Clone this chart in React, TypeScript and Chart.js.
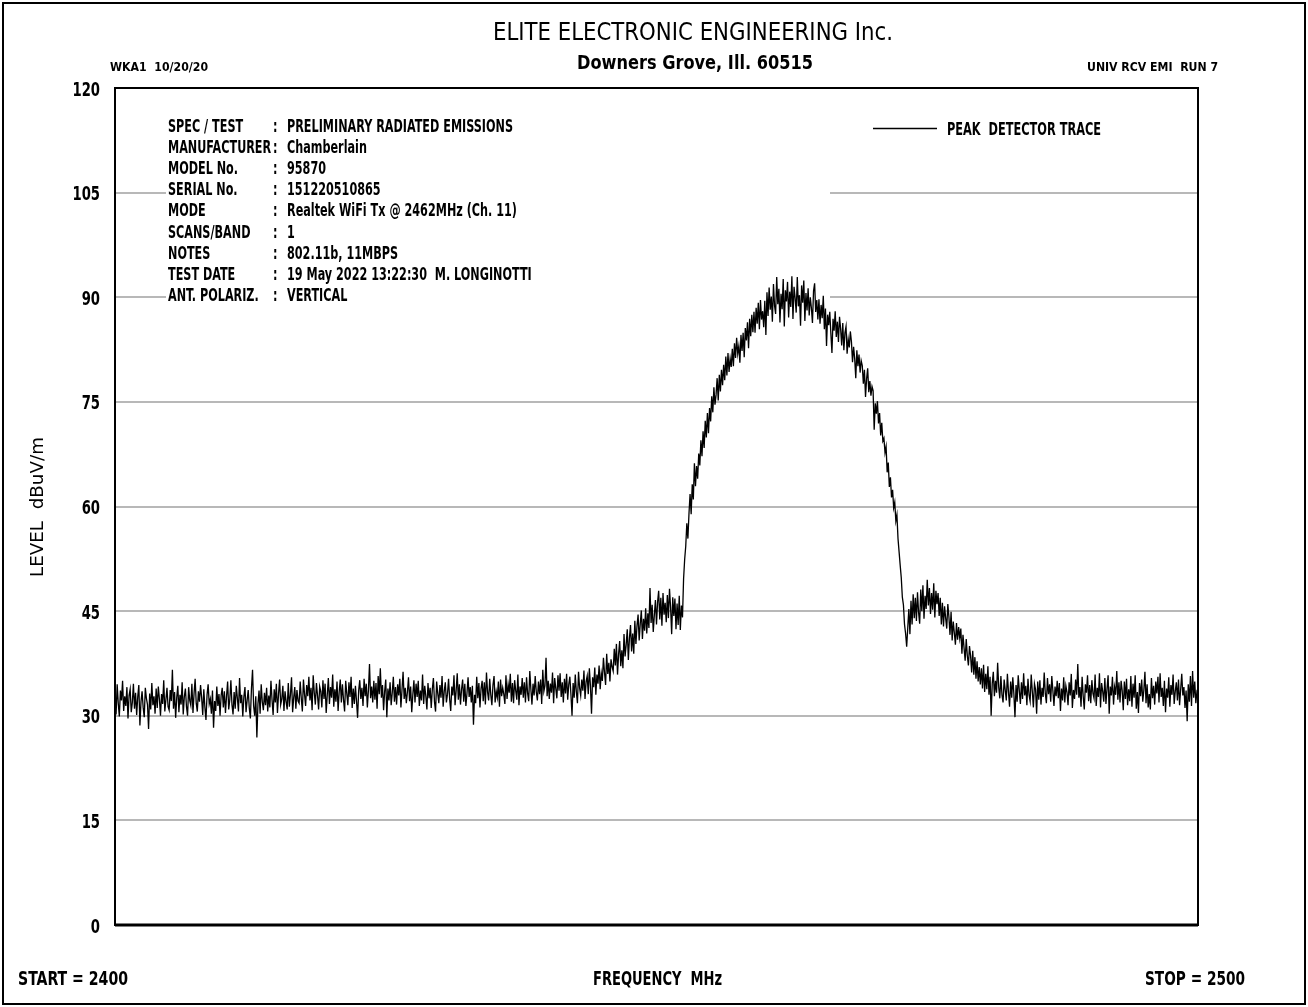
import React, { useEffect, useRef } from 'react';
import { Chart, registerables } from 'chart.js';

Chart.register(...registerables);

// ---- Data ----
const START_MHZ = 2400;
const STOP_MHZ = 2500;
const STEP_MHZ = 0.1;
const Y_MIN = 0;
const Y_MAX = 120;
const Y_STEP = 15;

const TITLE = 'ELITE ELECTRONIC ENGINEERING Inc.';
const SUBTITLE = 'Downers Grove, Ill. 60515';
const HEADER_LEFT = 'WKA1  10/20/20';
const HEADER_RIGHT = 'UNIV RCV EMI  RUN 7';
const Y_TITLE = 'LEVEL  dBuV/m';
const X_TITLE = 'FREQUENCY  MHz';
const START_LABEL = 'START = 2400';
const STOP_LABEL = 'STOP = 2500';
const LEGEND_LABEL = 'PEAK  DETECTOR TRACE';

const INFO_LABELS = [
  'SPEC / TEST',
  'MANUFACTURER',
  'MODEL No.',
  'SERIAL No.',
  'MODE',
  'SCANS/BAND',
  'NOTES',
  'TEST DATE',
  'ANT. POLARIZ.',
];
const INFO_VALUES = [
  'PRELIMINARY RADIATED EMISSIONS',
  'Chamberlain',
  '95870',
  '151220510865',
  'Realtek WiFi Tx @ 2462MHz (Ch. 11)',
  '1',
  '802.11b, 11MBPS',
  '19 May 2022 13:22:30  M. LONGINOTTI',
  'VERTICAL',
];

// Peak detector trace, dBuV/m, one reading every 0.1 MHz from 2400.0 to 2500.0 MHz
const PEAK_TRACE = [
  33.1, 30.2, 34.5, 31.8, 29.9, 33.6, 32.2, 35.0, 30.7, 32.8, // 2400
  31.4, 34.1, 29.6, 32.9, 33.8, 30.5, 31.9, 34.6, 31.0, 33.3,
  30.1, 32.7, 34.4, 28.6, 32.0, 33.5, 31.2, 29.8, 34.0, 32.5,
  31.6, 28.1, 33.2, 30.9, 34.7, 31.5, 32.8, 30.3, 33.9, 31.1,
  34.2, 32.4, 30.0, 33.1, 31.7, 35.1, 30.6, 32.3, 34.0, 31.3,
  30.8, 33.7, 32.1, 36.6, 31.0, 33.4, 29.7, 32.6, 34.3, 30.5, // 2405
  33.0, 31.6, 34.8, 30.2, 32.7, 33.9, 31.3, 30.0, 34.1, 32.2,
  31.5, 34.6, 30.4, 33.2, 35.3, 31.8, 30.6, 33.5, 32.0, 34.4,
  32.6, 30.1, 33.8, 31.2, 29.4, 33.0, 34.5, 31.7, 32.4, 30.3,
  33.6, 28.3, 32.1, 30.7, 34.2, 31.4, 33.1, 30.0, 32.9, 34.0,
  31.2, 33.5, 30.4, 32.8, 34.9, 30.9, 32.3, 35.1, 31.6, 30.2, // 2410
  33.4, 31.0, 34.3, 32.5, 30.6, 35.4, 31.8, 33.0, 29.9, 32.7,
  34.1, 30.5, 32.2, 33.7, 31.1, 29.6, 33.9, 36.6, 31.4, 30.0,
  32.8, 26.9, 31.7, 33.6, 30.3, 34.5, 32.0, 30.8, 33.3, 31.5,
  34.0, 30.6, 32.9, 31.2, 35.0, 32.3, 30.1, 33.8, 31.9, 34.6,
  30.4, 33.1, 35.2, 31.6, 32.4, 34.3, 30.7, 33.5, 32.0, 30.9, // 2415
  34.7, 31.3, 33.0, 35.5, 30.5, 32.6, 34.1, 31.0, 33.7, 32.1,
  31.8, 34.9, 32.5, 30.6, 35.2, 33.1, 31.4, 34.4, 32.8, 35.6,
  32.2, 34.0, 30.8, 35.8, 33.3, 31.6, 34.7, 32.9, 30.9, 34.2,
  33.5, 31.2, 35.1, 32.4, 34.6, 30.4, 33.0, 35.4, 31.7, 34.1,
  32.6, 35.9, 31.3, 33.8, 32.0, 34.9, 30.7, 33.4, 35.2, 31.9, // 2420
  34.5, 32.3, 30.6, 35.0, 33.2, 31.5, 34.8, 32.7, 35.6, 31.1,
  33.9, 31.7, 34.3, 32.1, 29.7, 33.6, 35.1, 32.4, 34.0, 31.4,
  35.3, 32.8, 34.6, 31.2, 33.7, 37.4, 32.5, 34.2, 31.9, 35.0,
  32.3, 34.7, 31.0, 35.7, 33.1, 36.8, 32.6, 34.4, 30.8, 33.5,
  35.2, 29.8, 33.9, 32.2, 34.8, 31.5, 33.3, 35.6, 32.0, 34.1, // 2425
  31.6, 34.5, 32.9, 35.3, 31.2, 33.7, 36.3, 32.4, 34.0, 31.8,
  33.4, 35.5, 32.1, 34.2, 30.5, 33.0, 35.1, 31.9, 34.6, 32.7,
  35.0, 31.4, 33.6, 32.2, 35.9, 31.7, 34.3, 32.8, 30.9, 34.7,
  32.5, 34.0, 31.1, 33.8, 35.4, 32.0, 30.6, 34.9, 33.2, 31.8,
  34.4, 32.6, 35.7, 31.3, 33.5, 34.8, 31.9, 33.1, 35.3, 32.4, // 2430
  30.7, 34.2, 32.9, 35.8, 31.5, 33.6, 36.1, 32.3, 34.5, 31.6,
  33.8, 35.2, 32.0, 34.6, 31.4, 33.2, 35.5, 32.7, 34.1, 31.9,
  34.3, 28.7, 33.0, 31.8, 35.6, 32.5, 34.7, 31.2, 33.9, 35.0,
  32.1, 34.8, 31.6, 36.2, 33.4, 32.2, 35.3, 33.0, 31.5, 34.4,
  35.7, 31.9, 33.5, 32.6, 34.9, 31.3, 35.2, 32.8, 34.0, 33.1, // 2435
  31.7, 35.8, 32.4, 34.5, 33.3, 36.0, 32.0, 34.7, 31.8, 35.1,
  33.6, 32.3, 35.9, 31.5, 34.2, 33.0, 35.4, 32.6, 34.8, 31.9,
  35.5, 33.2, 32.1, 36.4, 33.8, 31.6, 34.6, 32.9, 35.7, 33.4,
  32.2, 34.9, 33.1, 35.2, 31.7, 36.6, 33.5, 34.3, 38.3, 32.8,
  35.0, 32.4, 34.6, 33.3, 36.2, 31.8, 35.4, 33.9, 32.5, 35.8, // 2440
  33.6, 36.1, 32.7, 34.8, 31.9, 35.3, 33.2, 36.0, 32.3, 34.5,
  35.6, 33.0, 30.0, 34.7, 32.6, 35.9, 33.4, 31.8, 36.3, 34.0,
  32.9, 35.2, 33.6, 36.5, 32.4, 34.9, 35.7, 33.1, 36.8, 34.3,
  30.3, 35.5, 34.1, 36.9, 33.0, 35.9, 34.6, 37.2, 33.8, 36.1,
  35.0, 38.3, 36.2, 34.4, 38.9, 36.0, 37.6, 34.9, 38.1, 37.0, // 2445
  36.4, 39.6, 37.2, 40.3, 35.9, 38.8, 40.7, 37.1, 39.4, 36.8,
  41.7, 38.5, 40.2, 42.4, 38.0, 41.1, 43.0, 39.2, 41.8, 38.9,
  43.6, 40.3, 42.9, 44.5, 40.8, 43.2, 45.1, 41.0, 43.9, 42.2,
  45.4, 41.8, 44.7, 42.6, 48.3, 43.3, 45.9, 42.0, 44.4, 46.6,
  43.1, 46.3, 47.9, 43.8, 46.9, 42.9, 47.6, 44.5, 46.2, 43.4, // 2450
  47.3, 44.0, 48.2, 45.6, 41.7, 47.0, 44.3, 46.8, 42.4, 46.1,
  43.0, 47.2, 42.3, 45.8, 44.1, 49.6, 52.4, 54.3, 57.6, 55.4,
  59.0, 61.8, 58.9, 63.2, 61.0, 66.2, 62.9, 65.8, 64.0, 67.6,
  65.9, 69.5, 67.2, 70.8, 68.4, 72.3, 69.9, 73.4, 70.5, 74.1,
  72.2, 75.8, 73.5, 77.1, 74.6, 76.0, 78.4, 75.2, 78.9, 76.5, // 2455
  79.6, 77.4, 80.3, 78.1, 81.5, 78.8, 82.0, 79.3, 81.2, 80.0,
  82.6, 80.1, 83.4, 81.3, 84.2, 81.9, 83.0, 80.6, 84.6, 82.3,
  84.9, 81.4, 85.6, 83.8, 86.4, 82.7, 86.9, 84.4, 87.5, 85.0,
  87.9, 84.9, 88.5, 86.2, 89.2, 85.4, 89.6, 86.8, 88.0, 85.7,
  89.5, 84.6, 90.7, 87.3, 91.4, 88.2, 90.1, 86.5, 91.9, 88.8, // 2460
  87.6, 92.9, 89.0, 91.2, 86.4, 90.5, 88.3, 92.6, 85.8, 91.0,
  89.4, 92.2, 87.1, 90.8, 88.6, 93.0, 86.9, 91.5, 89.9, 87.8,
  92.9, 88.7, 90.3, 85.9, 91.7, 89.2, 92.4, 86.6, 90.6, 88.1,
  91.3, 87.4, 90.0, 88.5, 86.3, 90.9, 92.0, 87.9, 89.6, 86.8,
  89.7, 86.2, 88.9, 87.0, 90.2, 85.4, 88.4, 83.0, 87.5, 86.0, // 2465
  87.9, 84.8, 82.0, 86.9, 85.2, 88.0, 84.3, 86.5, 83.6, 87.2,
  85.5, 83.1, 86.3, 82.4, 84.9, 85.8, 81.9, 84.0, 82.8, 85.1,
  83.6, 80.7, 82.9, 81.2, 78.4, 82.4, 80.1, 81.8, 79.2, 80.9,
  80.2, 77.6, 79.6, 75.7, 78.3, 79.8, 76.4, 78.0, 75.9, 77.2,
  76.6, 71.0, 74.8, 73.3, 75.1, 71.9, 73.4, 70.2, 72.0, 69.4, // 2470
  69.8, 67.7, 68.6, 64.9, 66.3, 62.8, 64.2, 61.3, 62.4, 59.8,
  60.6, 57.9, 58.8, 55.4, 53.5, 51.6, 49.8, 47.0, 45.9, 43.1,
  41.8, 39.9, 42.6, 45.3, 41.7, 46.5, 43.1, 47.4, 44.0, 46.9,
  43.6, 47.7, 44.8, 43.2, 48.1, 45.0, 48.7, 43.9, 47.2, 45.3,
  49.5, 45.8, 48.3, 44.6, 47.6, 45.2, 49.0, 44.1, 47.9, 46.0, // 2475
  47.6, 44.3, 46.9, 43.1, 46.2, 42.8, 45.7, 44.0, 42.5, 46.0,
  44.2, 41.6, 44.9, 40.8, 43.5, 41.9, 40.2, 43.3, 40.9, 42.7,
  41.1, 42.5, 38.9, 41.6, 39.7, 37.9, 41.0, 38.6, 37.2, 40.0,
  38.6, 36.2, 39.3, 35.9, 38.4, 35.3, 37.8, 34.9, 37.0, 34.5,
  36.8, 33.9, 37.3, 33.4, 36.0, 33.8, 37.1, 33.0, 35.6, 30.0, // 2480
  34.6, 36.3, 32.8, 35.0, 33.3, 37.6, 34.1, 32.5, 35.7, 33.0,
  31.9, 35.2, 33.7, 32.2, 36.0, 33.4, 31.3, 34.9, 32.6, 35.5,
  33.1, 29.8, 34.4, 32.0, 35.8, 33.6, 31.7, 34.8, 32.4, 36.1,
  32.9, 34.3, 31.5, 35.3, 33.0, 32.1, 35.9, 33.5, 31.2, 34.6,
  33.8, 30.3, 34.9, 32.3, 35.1, 31.6, 34.0, 32.7, 36.2, 33.2, // 2485
  31.8, 35.4, 33.1, 34.5, 32.0, 35.7, 33.6, 31.4, 34.2, 32.8,
  35.0, 32.5, 34.7, 30.7, 33.9, 32.2, 35.5, 31.9, 34.3, 33.4,
  31.5, 34.8, 32.9, 36.0, 31.1, 33.7, 32.4, 35.2, 33.0, 37.4,
  32.6, 34.1, 31.3, 35.6, 32.8, 30.9, 34.5, 33.3, 35.8, 32.1,
  34.4, 31.8, 35.1, 33.2, 32.5, 35.9, 31.4, 34.0, 32.7, 36.1, // 2490
  31.2, 34.7, 33.5, 32.0, 35.4, 31.7, 33.9, 35.8, 30.3, 34.2,
  32.9, 35.6, 31.6, 34.1, 33.0, 36.4, 32.3, 34.8, 31.9, 35.0,
  33.6, 30.8, 34.9, 32.4, 35.3, 31.5, 33.8, 32.1, 35.7, 31.3,
  34.6, 32.6, 35.8, 31.0, 33.4, 30.4, 34.7, 32.8, 35.2, 32.0,
  33.7, 36.3, 31.8, 34.5, 31.2, 33.1, 30.9, 35.4, 32.5, 34.3, // 2495
  31.6, 34.9, 33.2, 35.6, 31.9, 36.1, 32.7, 34.0, 31.4, 35.0,
  30.5, 33.9, 32.6, 35.5, 31.3, 34.4, 33.0, 35.9, 31.7, 33.5,
  34.8, 32.2, 35.2, 31.5, 33.8, 36.0, 32.9, 34.1, 31.1, 33.6,
  29.2, 34.5, 32.0, 35.7, 31.4, 36.4, 32.6, 34.9, 31.8, 33.4,
  33.0, // 2500
];

// ---- Styles ----
const NARROW = "'DejaVu Sans Condensed', 'DejaVu Sans', sans-serif";
const PLAIN = "'DejaVu Sans', 'Liberation Sans', sans-serif";

function scaledText(
  ctx: CanvasRenderingContext2D,
  text: string,
  x: number,
  y: number,
  sx: number,
  font: string,
  align: 'left' | 'right' = 'left',
) {
  ctx.font = font;
  ctx.save();
  ctx.translate(x, y);
  ctx.scale(sx, 1);
  ctx.textAlign = align;
  ctx.textBaseline = 'alphabetic';
  ctx.fillText(text, 0, 0);
  ctx.restore();
}

function fitText(
  ctx: CanvasRenderingContext2D,
  text: string,
  x: number,
  y: number,
  width: number,
  font: string,
) {
  ctx.font = font;
  const w = ctx.measureText(text).width || 1;
  scaledText(ctx, text, x, y, width / w, font);
}

const pagePlugin = {
  id: 'pagePlugin',
  beforeDraw(chart: any) {
    const ctx = chart.ctx as CanvasRenderingContext2D;
    ctx.save();
    ctx.fillStyle = '#ffffff';
    ctx.fillRect(0, 0, chart.width, chart.height);
    ctx.restore();
  },
  beforeDatasetsDraw(chart: any) {
    const ctx = chart.ctx as CanvasRenderingContext2D;
    ctx.save();
    // white panel behind the info block (hides the grid lines there)
    ctx.fillStyle = '#ffffff';
    ctx.fillRect(166, 100, 664, 236);
    ctx.fillStyle = '#000000';
    const infoFont = `bold 18.5px ${NARROW}`;
    ctx.font = infoFont;
    const sx = 226 / ctx.measureText(INFO_VALUES[0]).width;
    INFO_LABELS.forEach((lab, i) => {
      const y = 132 + i * 21.1;
      scaledText(ctx, lab, 168, y, sx, infoFont);
      scaledText(ctx, ':', 273, y, sx, infoFont);
      scaledText(ctx, INFO_VALUES[i], 287, y, sx, infoFont);
    });
    ctx.restore();
  },
  afterDatasetsDraw(chart: any) {
    const ctx = chart.ctx as CanvasRenderingContext2D;
    const a = chart.chartArea;
    const yScale = chart.scales.y;
    ctx.save();
    ctx.strokeStyle = '#000000';
    ctx.fillStyle = '#000000';
    // plot frame
    ctx.lineWidth = 2;
    ctx.strokeRect(a.left, a.top, a.right - a.left, a.bottom - a.top);
    ctx.lineWidth = 3;
    ctx.beginPath();
    ctx.moveTo(a.left, a.bottom);
    ctx.lineTo(a.right, a.bottom);
    ctx.stroke();
    // page frame
    ctx.lineWidth = 2;
    ctx.strokeRect(3, 3, chart.width - 6, chart.height - 6);

    // y tick labels, taken from the y scale's own ticks
    yScale.ticks.forEach((t: any) => {
      const py = yScale.getPixelForValue(t.value);
      scaledText(ctx, String(t.value), a.left - 15, py + 7.5, 0.66, `bold 20px ${PLAIN}`, 'right');
    });

    // header
    fitText(ctx, TITLE, 493, 40, 400, `24px ${PLAIN}`);
    fitText(ctx, SUBTITLE, 577, 69, 236, `bold 20px ${NARROW}`);
    fitText(ctx, HEADER_LEFT, 110, 71, 98, `bold 12.5px ${NARROW}`);
    fitText(ctx, HEADER_RIGHT, 1087, 71, 131, `bold 12.5px ${NARROW}`);

    // legend
    ctx.lineWidth = 1.5;
    ctx.beginPath();
    ctx.moveTo(873, 128.5);
    ctx.lineTo(937, 128.5);
    ctx.stroke();
    fitText(ctx, LEGEND_LABEL, 947, 135, 154, `bold 18px ${NARROW}`);

    // bottom labels
    fitText(ctx, START_LABEL, 18, 985, 110, `bold 20px ${NARROW}`);
    fitText(ctx, X_TITLE, 593, 985, 129, `bold 20px ${NARROW}`);
    fitText(ctx, STOP_LABEL, 1145, 985, 100, `bold 20px ${NARROW}`);

    // y axis title (rotated)
    ctx.save();
    ctx.translate(43, 577);
    ctx.rotate(-Math.PI / 2);
    fitText(ctx, Y_TITLE, 0, 0, 140, `18px ${PLAIN}`);
    ctx.restore();

    ctx.restore();
  },
};

export default function App() {
  const canvasRef = useRef<HTMLCanvasElement | null>(null);

  useEffect(() => {
    document.body.style.margin = '0';
    const canvas = canvasRef.current;
    if (!canvas) return;
    const points = PEAK_TRACE.map((v, i) => ({ x: START_MHZ + i * STEP_MHZ, y: v }));
    const chart = new Chart(canvas, {
      type: 'line',
      data: {
        datasets: [
          {
            label: LEGEND_LABEL,
            data: points,
            borderColor: '#000000',
            borderWidth: 1.3,
            pointRadius: 0,
            tension: 0,
            fill: false,
          },
        ],
      },
      options: {
        animation: false,
        responsive: false,
        maintainAspectRatio: false,
        devicePixelRatio: 1,
        layout: { padding: { left: 0, top: 88, right: 110, bottom: 82 } },
        plugins: {
          legend: { display: false },
          tooltip: { enabled: false },
          title: { display: false },
        },
        scales: {
          x: {
            type: 'linear',
            min: START_MHZ,
            max: STOP_MHZ,
            display: false,
          },
          y: {
            type: 'linear',
            min: Y_MIN,
            max: Y_MAX,
            afterFit: (scale: any) => {
              scale.width = 115;
            },
            border: { display: false },
            grid: {
              drawTicks: false,
              lineWidth: 2,
              color: (c: any) =>
                c.tick && (c.tick.value === Y_MIN || c.tick.value === Y_MAX)
                  ? 'rgba(0,0,0,0)'
                  : '#b8b8b8',
            },
            ticks: {
              stepSize: Y_STEP,
              display: false,
            },
          },
        },
      },
      plugins: [pagePlugin],
    } as any);
    return () => chart.destroy();
  }, []);

  return (
    <div style={{ width: 1308, height: 1007, position: 'relative', background: '#fff' }}>
      <canvas ref={canvasRef} width={1308} height={1007} style={{ display: 'block' }} />
    </div>
  );
}
